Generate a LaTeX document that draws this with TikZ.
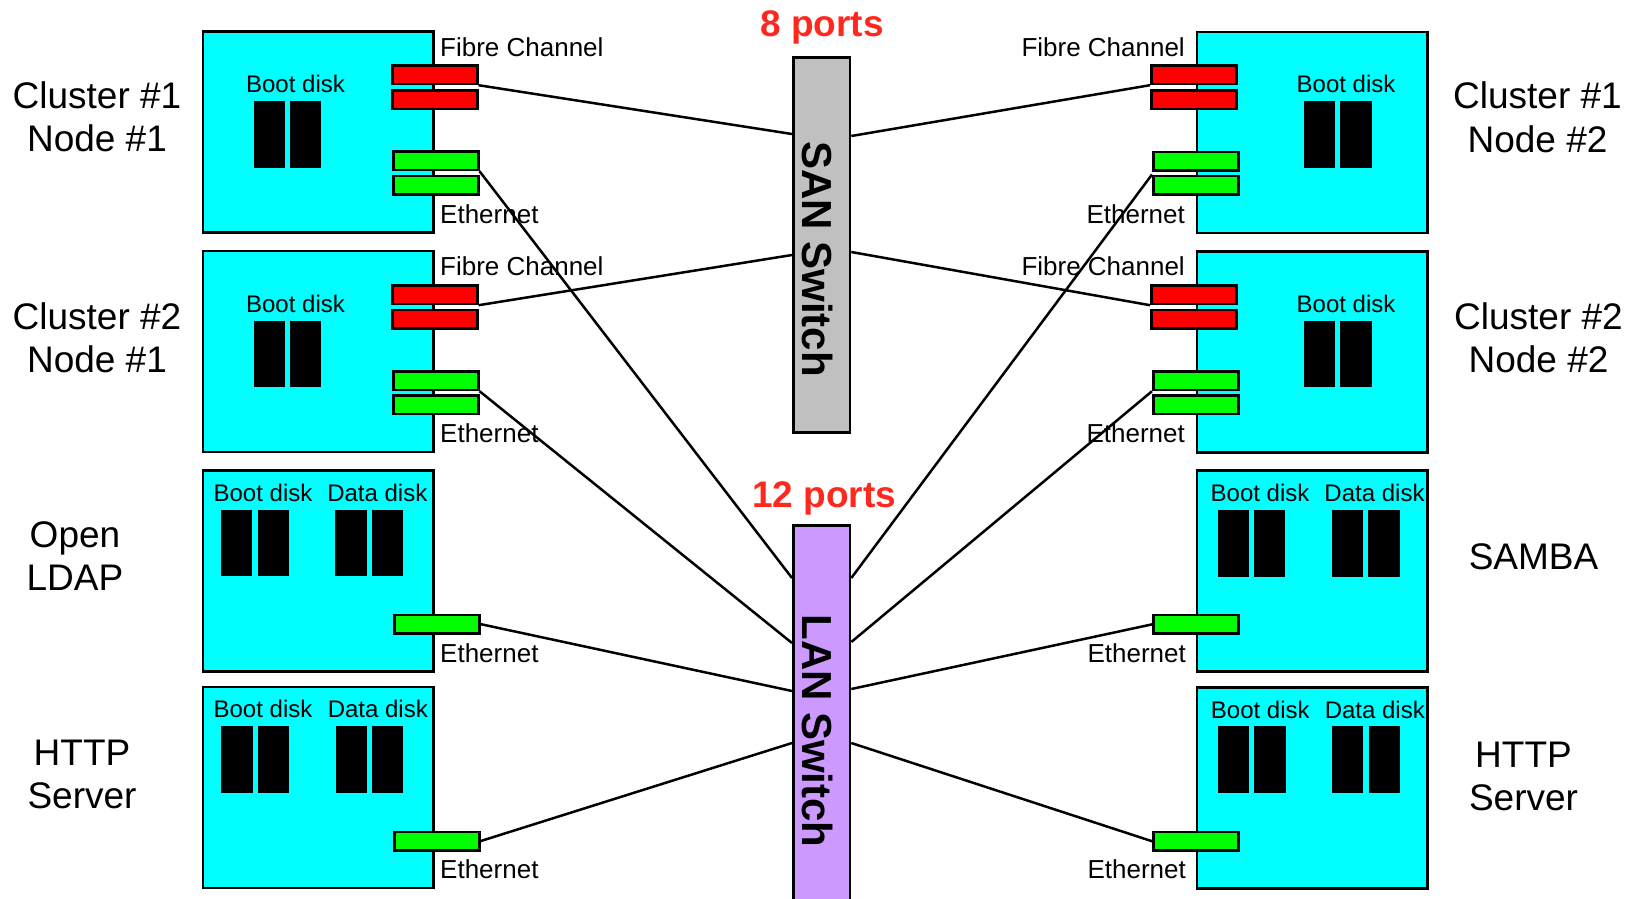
\documentclass[tikz,border=0pt]{standalone}
\usepackage{fontspec}
\setmainfont{Liberation Sans}
\usetikzlibrary{calc}
\definecolor{boxcyan}{RGB}{0,255,255}
\definecolor{portred}{RGB}{255,0,0}
\definecolor{portgreen}{RGB}{0,255,0}
\definecolor{sangray}{RGB}{192,192,192}
\definecolor{lanpurple}{RGB}{204,153,255}
\definecolor{portsred}{RGB}{255,40,30}
\begin{document}
\begin{tikzpicture}[x=1pt,y=-1pt,
  box/.style={draw=black, line width=2.8pt, fill=boxcyan, minimum width=230.5pt, minimum height=201pt, anchor=north west, inner sep=0pt},
  fcport/.style={draw=black, line width=2.5pt, fill=portred, minimum width=85pt, minimum height=18.7pt, anchor=north west, inner sep=0pt},
  ethport/.style={draw=black, line width=2.5pt, fill=portgreen, minimum width=85pt, minimum height=18.7pt, anchor=north west, inner sep=0pt},
  disk/.style={fill=black, minimum width=31.3pt, minimum height=66.6pt, anchor=north west, inner sep=0pt},
  small/.style={font=\fontsize{26}{31}\selectfont, inner sep=0pt},
  disklbl/.style={font=\fontsize{24}{29}\selectfont, inner sep=0pt, anchor=base},
  big/.style={font=\fontsize{37}{43.5}\selectfont, align=center, inner sep=0pt},
  portcount/.style={font=\fontsize{37}{44}\selectfont\bfseries, text=portsred, inner sep=0pt, anchor=base},
  switchbox/.style={draw=black, line width=2.8pt, minimum width=56.5pt, anchor=north west, inner sep=0pt},
  swtext/.style={font=\fontsize{42}{50}\selectfont\bfseries, inner sep=0pt, rotate=-90},
  conn/.style={draw=black, line width=2.5pt}
]
\clip (0,0) rectangle (1630,898);
\fill[white] (0,0) rectangle (1630,898);

% ---------- left boxes ----------
\node[box] (b1l) at (201.5,30) {};
\node[box] (b2l) at (201.5,249.5) {};
\node[box] (b3l) at (201.5,469) {};
\node[box] (b4l) at (201.5,685.5) {};
% ---------- right boxes ----------
\node[box] (b1r) at (1195.5,30.5) {};
\node[box] (b2r) at (1195.5,250) {};
\node[box] (b3r) at (1195.5,469) {};
\node[box] (b4r) at (1195.5,685.7) {};

% ---------- left ports ----------
\node[fcport] (r1l1) at (391,64) {};
\node[fcport] (r1l2) at (391,89) {};
\node[ethport] (g1l1) at (392,150) {};
\node[ethport] (g1l2) at (392,174.5) {};
\node[fcport] (r2l1) at (391,284) {};
\node[fcport] (r2l2) at (391,308.5) {};
\node[ethport] (g2l1) at (392,370) {};
\node[ethport] (g2l2) at (392,394) {};
\node[ethport] (g3l) at (393,613.5) {};
\node[ethport] (g4l) at (393,830.5) {};
% ---------- right ports ----------
\node[fcport] (r1r1) at (1150,64) {};
\node[fcport] (r1r2) at (1150,89) {};
\node[ethport] (g1r1) at (1152,150.5) {};
\node[ethport] (g1r2) at (1152,174.5) {};
\node[fcport] (r2r1) at (1150,284) {};
\node[fcport] (r2r2) at (1150,308.5) {};
\node[ethport] (g2r1) at (1152,370) {};
\node[ethport] (g2r2) at (1152,394) {};
\node[ethport] (g3r) at (1152.3,613.7) {};
\node[ethport] (g4r) at (1152.3,830.7) {};

% ---------- disks ----------
\node[disk] (d1la) at (253.3,100.7) {};
\node[disk] (d1lb) at (289.3,100.7) {};
\node[disk] (d2la) at (253.3,320.5) {};
\node[disk] (d2lb) at (289.3,320.5) {};
\node[disk] (d1ra) at (1303.5,101) {};
\node[disk] (d1rb) at (1340,101) {};
\node[disk] (d2ra) at (1303.5,320.5) {};
\node[disk] (d2rb) at (1340,320.5) {};
\node[disk] (d3la) at (220.7,509.3) {};
\node[disk] (d3lb) at (257.3,509.3) {};
\node[disk] (d3lc) at (335,509.3) {};
\node[disk] (d3ld) at (371.3,509.3) {};
\node[disk] (d4la) at (221,725.7) {};
\node[disk] (d4lb) at (257.3,725.7) {};
\node[disk] (d4lc) at (335.3,725.7) {};
\node[disk] (d4ld) at (371.7,725.7) {};
\node[disk] (d3ra) at (1217.3,510) {};
\node[disk] (d3rb) at (1253.7,510) {};
\node[disk] (d3rc) at (1331.7,510) {};
\node[disk] (d3rd) at (1368,510) {};
\node[disk] (d4ra) at (1217.7,726) {};
\node[disk] (d4rb) at (1254,726) {};
\node[disk] (d4rc) at (1331.7,726) {};
\node[disk] (d4rd) at (1368.3,726) {};

% ---------- disk labels ----------
\node[disklbl] (t1lb) at (295.5,92.7) {Boot disk};
\node[disklbl] (t2lb) at (295.5,312.7) {Boot disk};
\node[disklbl] (t1rb) at (1346,92.7) {Boot disk};
\node[disklbl] (t2rb) at (1346,312.7) {Boot disk};
\node[disklbl] (t3lb) at (263,501.7) {Boot disk};
\node[disklbl] (t3ld) at (377.3,501.7) {Data disk};
\node[disklbl] (t4lb) at (263,717.7) {Boot disk};
\node[disklbl] (t4ld) at (377.8,717.7) {Data disk};
\node[disklbl] (t3rb) at (1260,501.7) {Boot disk};
\node[disklbl] (t3rd) at (1374.5,501.7) {Data disk};
\node[disklbl] (t4rb) at (1260.3,718.3) {Boot disk};
\node[disklbl] (t4rd) at (1374.8,718.3) {Data disk};

% ---------- port labels ----------
\node[small, anchor=base west] (fc1l) at (440,56) {Fibre Channel};
\node[small, anchor=base west] (et1l) at (440,223.3) {Ethernet};
\node[small, anchor=base west] (fc2l) at (440,275.5) {Fibre Channel};
\node[small, anchor=base west] (et2l) at (440,442.5) {Ethernet};
\node[small, anchor=base west] (et3l) at (440,662.3) {Ethernet};
\node[small, anchor=base west] (et4l) at (440,878.3) {Ethernet};
\node[small, anchor=base east] (fc1r) at (1185,56) {Fibre Channel};
\node[small, anchor=base east] (et1r) at (1185,223.3) {Ethernet};
\node[small, anchor=base east] (fc2r) at (1185,275.5) {Fibre Channel};
\node[small, anchor=base east] (et2r) at (1185,442.5) {Ethernet};
\node[small, anchor=base east] (et3r) at (1186,662) {Ethernet};
\node[small, anchor=base east] (et4r) at (1186,878) {Ethernet};

% ---------- machine names ----------
\node[big] (n1l) at (97,117) {Cluster \#1\\Node \#1};
\node[big] (n2l) at (97,338) {Cluster \#2\\Node \#1};
\node[big] (n3l) at (75,556) {Open\\LDAP};
\node[big] (n4l) at (82,774.5) {HTTP\\Server};
\node[big] (n1r) at (1537.5,117.5) {Cluster \#1\\Node \#2};
\node[big] (n2r) at (1538.5,338) {Cluster \#2\\Node \#2};
\node[big] (n3r) at (1533.5,557) {SAMBA};
\node[big] (n4r) at (1523.5,776.5) {HTTP\\Server};

% ---------- switches ----------
\node[switchbox, fill=sangray, minimum height=375pt] (san) at (792,56) {};
\node[switchbox, fill=lanpurple, minimum height=400pt] (lan) at (792,524) {};
\node[swtext] (santxt) at (818,259) {SAN Switch};
\node[swtext] (lantxt) at (818,731) {LAN Switch};
\node[portcount] (sanports) at (822,36) {8 ports};
\node[portcount] (lanports) at (824,507) {12 ports};

% ---------- connectors ----------
\draw[conn] (r1l1.south east) -- ($(san.north west)+(0,78)$);
\draw[conn] (g1l1.south east) -- ($(lan.north west)+(0,54)$);
\draw[conn] (r2l1.south east) -- ($(san.north west)+(0,199)$);
\draw[conn] (g2l1.south east) -- ($(lan.north west)+(0,119)$);
\draw[conn] (g3l.east) -- ($(lan.north west)+(0,167)$);
\draw[conn] (g4l.east) -- ($(lan.north west)+(0,219)$);
\draw[conn] (r1r1.south west) -- ($(san.north east)+(0,80)$);
\draw[conn] (g1r2.north west) -- ($(lan.north east)+(0,54)$);
\draw[conn] (r2r1.south west) -- ($(san.north east)+(0,196)$);
\draw[conn] (g2r1.south west) -- ($(lan.north east)+(0,118)$);
\draw[conn] (g3r.west) -- ($(lan.north east)+(0,165)$);
\draw[conn] (g4r.west) -- ($(lan.north east)+(0,219)$);
\end{tikzpicture}
\end{document}
